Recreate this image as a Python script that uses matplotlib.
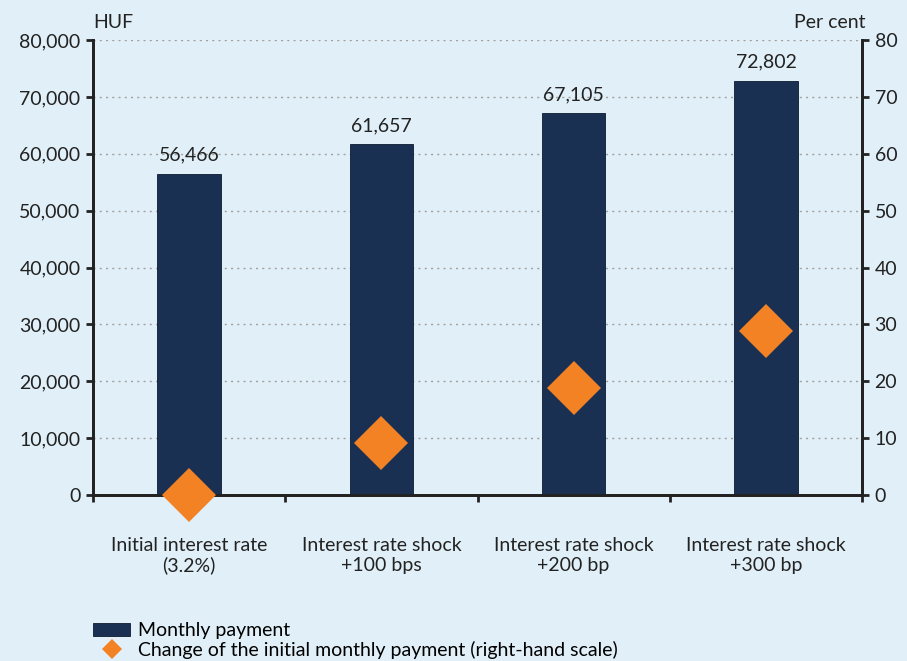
import matplotlib.pyplot as plt
import numpy as np
from matplotlib.lines import Line2D
from matplotlib.patches import Patch

plt.rcParams['font.family'] = ['Lato', 'DejaVu Sans']

categories = ["Initial interest rate\n(3.2%)", "Interest rate shock\n+100 bps",
              "Interest rate shock\n+200 bp", "Interest rate shock\n+300 bp"]
payment = [56466, 61657, 67105, 72802]
change = [0.0, 9.2, 18.8, 28.9]

BG = "#e1f0f8"
NAVY = "#1a3052"
ORANGE = "#f28223"
TXT = "#222222"
FS = 14

fig = plt.figure(figsize=(9.07, 6.61), dpi=100, facecolor=BG)
ax = fig.add_axes([0.1025, 0.251, 0.848, 0.6885], facecolor=BG)
ax2 = ax.twinx()

x = np.arange(len(categories))
ax.bar(x, payment, width=0.33, color=NAVY, edgecolor="#0d1a30", linewidth=0.6, zorder=3)
for xi, v in zip(x, payment):
    ax.text(xi, v + 1800, f"{v:,}", ha="center", va="bottom", fontsize=FS, color=TXT)

ax2.plot(x, change, linestyle="none", marker="D", markersize=27, color=ORANGE,
         markeredgewidth=0, zorder=5, clip_on=False)

ax.set_xlim(-0.5, len(categories) - 0.5)
ax.set_ylim(0, 80000)
ax2.set_ylim(0, 80)
ax.set_yticks(np.arange(0, 80001, 10000))
ax.set_yticklabels([f"{v:,}" for v in range(0, 80001, 10000)])
ax2.set_yticks(np.arange(0, 81, 10))

ax.yaxis.grid(True, linestyle=(0, (1.5, 3)), color="#a0a0a0", linewidth=1, zorder=0)
ax.set_axisbelow(True)

ax.set_xticks(x)
ax.set_xticklabels(categories, fontsize=FS, color=TXT)
ax.tick_params(axis="x", which="major", length=0, pad=30)
ax.set_xticks(np.arange(-0.5, len(categories), 1), minor=True)
ax.tick_params(axis="x", which="minor", length=5, width=2, color=TXT)

ax.tick_params(axis="y", labelsize=FS, labelcolor=TXT, length=5, width=2, color=TXT, pad=4)
ax2.tick_params(axis="y", labelsize=FS, labelcolor=TXT, length=5, width=2, color=TXT, pad=4)

for a in (ax, ax2):
    a.spines["top"].set_visible(False)
    for s in ("left", "right", "bottom"):
        a.spines[s].set_linewidth(2)
        a.spines[s].set_color(TXT)

ax.text(0.0, 1.02, "HUF", transform=ax.transAxes, ha="left", va="bottom", fontsize=FS, color=TXT)
ax2.text(1.005, 1.02, "Per cent", transform=ax2.transAxes, ha="right", va="bottom", fontsize=FS, color=TXT)

handles = [Patch(facecolor=NAVY, edgecolor="#0d1a30", linewidth=0.6),
           Line2D([], [], linestyle="none", marker="D", markersize=10, color=ORANGE, markeredgewidth=0)]
labels = ["Monthly payment", "Change of the initial monthly payment (right-hand scale)"]
fig.legend(handles, labels, loc="lower left", bbox_to_anchor=(0.0935, -0.008), frameon=False,
           fontsize=FS, handlelength=1.95, handleheight=0.7, labelspacing=0.05, handletextpad=0.4,
           borderaxespad=0.0)

fig.savefig("out.png", dpi=100, facecolor=BG)
